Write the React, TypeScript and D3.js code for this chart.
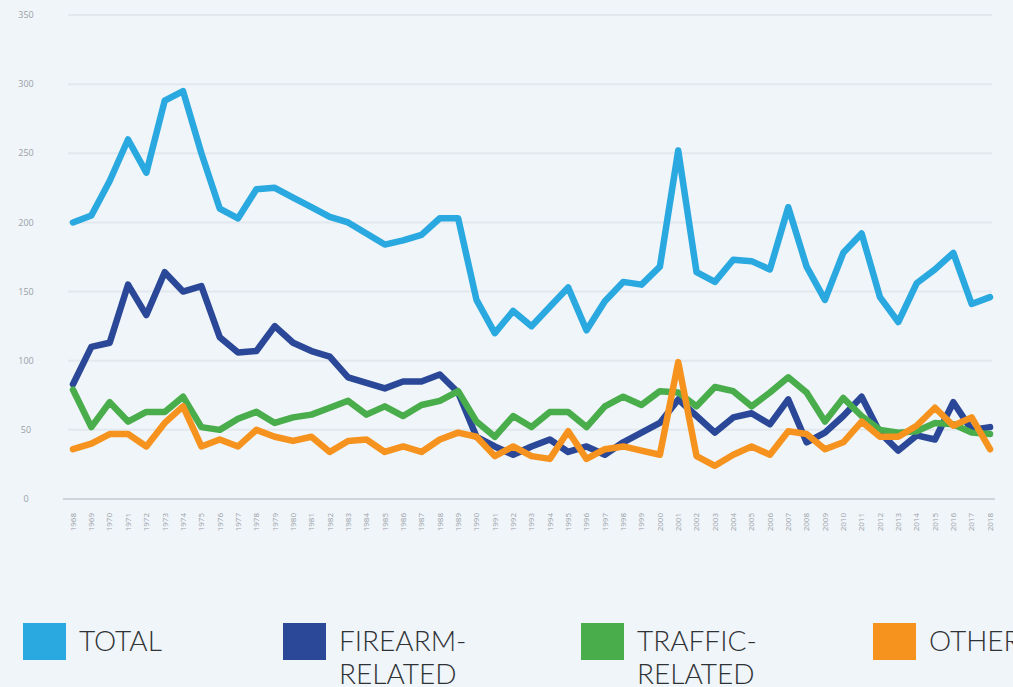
import * as React from "react";
import * as d3 from "d3";

const years: number[] = d3.range(1968, 2019);

const totalValues = [
  200, 205, 230, 260, 236, 288, 295, 250, 210, 203, 224, 225, 218, 211, 204,
  200, 192, 184, 187, 191, 203, 203, 144, 120, 136, 125, 139, 153, 122, 143,
  157, 155, 168, 252, 164, 157, 173, 172, 166, 211, 168, 144, 178, 192, 146,
  128, 156, 166, 178, 141, 146,
];
const firearmValues = [
  83, 110, 113, 155, 133, 164, 150, 154, 117, 106, 107, 125, 113, 107, 103,
  88, 84, 80, 85, 85, 90, 77, 45, 38, 32, 38, 43, 34, 38, 32, 41, 48, 55, 72,
  60, 48, 59, 62, 54, 72, 41, 48, 60, 74, 48, 35, 46, 43, 70, 50, 52,
];
const trafficValues = [
  79, 52, 70, 56, 63, 63, 74, 52, 50, 58, 63, 55, 59, 61, 66, 71, 61, 67, 60,
  68, 71, 78, 56, 45, 60, 52, 63, 63, 52, 67, 74, 68, 78, 77, 67, 81, 78, 67,
  77, 88, 77, 56, 73, 60, 50, 48, 49, 55, 54, 48, 47,
];
const otherValues = [
  36, 40, 47, 47, 38, 55, 67, 38, 43, 38, 50, 45, 42, 45, 34, 42, 43, 34, 38,
  34, 43, 48, 45, 31, 38, 31, 29, 49, 29, 36, 38, 35, 32, 99, 31, 24, 32, 38,
  32, 49, 47, 36, 41, 56, 45, 45, 53, 66, 53, 59, 36,
];

const yTicks = [0, 50, 100, 150, 200, 250, 300, 350];

const seriesNames = ["TOTAL", "FIREARM-\nRELATED", "TRAFFIC-\nRELATED", "OTHER"];
const seriesColors = ["#2aa8e0", "#2a4897", "#4aad4c", "#f6931f"];
const seriesData = [totalValues, firearmValues, trafficValues, otherValues];
const legendX = [23, 283, 581, 873];

const W = 1013;
const H = 687;

export default function App() {
  const x = d3.scaleLinear().domain([1968, 2018]).range([73, 990]);
  const y = d3.scaleLinear().domain([0, 350]).range([499, 15]);

  const line = d3
    .line<number>()
    .x((_, i) => x(years[i]))
    .y((d) => y(d));

  return (
    <svg
      width={W}
      height={H}
      style={{ position: "absolute", left: 0, top: 0, background: "#eff5f9" }}
    >
      <rect x={0} y={0} width={W} height={H} fill="#eff5f9" />
      {/* gridlines + y labels */}
      {yTicks.map((t) => (
        <g key={t}>
          {t > 0 && (
            <line
              x1={68}
              x2={992}
              y1={y(t)}
              y2={y(t)}
              stroke="#e2e8ed"
              strokeWidth={2}
            />
          )}
          <text
            x={26}
            y={y(t)}
            dy="0.35em"
            textAnchor="middle"
            fontFamily="'Open Sans', sans-serif"
            fontSize={9}
            fill="#9aa0a6"
          >
            {t}
          </text>
        </g>
      ))}
      <line
        x1={63}
        x2={995}
        y1={y(0)}
        y2={y(0)}
        stroke="#cfd5da"
        strokeWidth={2}
      />
      {/* x tick labels */}
      {years.map((yr) => (
        <text
          key={yr}
          transform={`translate(${x(yr)},${513}) rotate(-90)`}
          textAnchor="end"
          dy="0.35em"
          fontFamily="'Open Sans', sans-serif"
          fontSize={8}
          fill="#9aa0a6"
        >
          {yr}
        </text>
      ))}
      {/* lines */}
      {seriesData.map((vals, i) => (
        <path
          key={i}
          d={line(vals) || ""}
          fill="none"
          stroke={seriesColors[i]}
          strokeWidth={6.5}
          strokeLinejoin="round"
          strokeLinecap="round"
        />
      ))}
      {/* legend */}
      {seriesNames.map((name, i) => {
        const parts = name.split("\n");
        return (
          <g key={name} transform={`translate(${legendX[i]},623)`}>
            <rect width={43} height={37} fill={seriesColors[i]} />
            {parts.map((p, j) => (
              <text
                key={j}
                x={56}
                y={28 + j * 33}
                fontFamily="Lato, sans-serif"
                fontWeight={300}
                fontSize={28}
                fill="#2f3235"
              >
                {p}
              </text>
            ))}
          </g>
        );
      })}
    </svg>
  );
}
